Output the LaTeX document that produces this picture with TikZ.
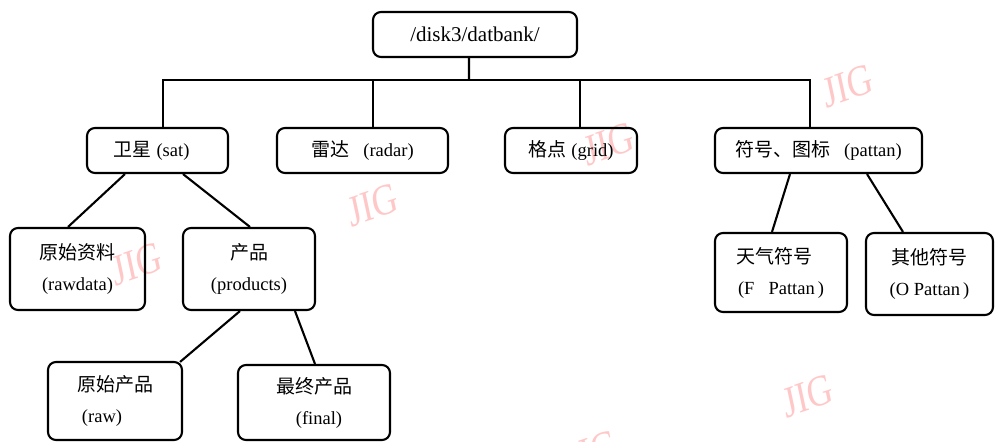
\documentclass[tikz,border=0pt]{standalone}
\usepackage{fontspec}
\setmainfont{Liberation Serif}
\newfontfamily\cjk{Noto Sans CJK SC}
\newcommand\zh[1]{{\cjk\fontsize{19bp}{31bp}\selectfont #1}}
\definecolor{wm}{RGB}{255,200,200}
\begin{document}
\begin{tikzpicture}[x=1bp,y=-1bp,
  box/.style={draw, line width=2.1bp, rounded corners=8bp, inner sep=0pt, align=center,
    font=\fontsize{18.5bp}{31bp}\selectfont},
  conn/.style={line width=2.1bp},
  wmark/.style={text=wm, font=\fontsize{44bp}{44bp}\selectfont, xscale=0.8, rotate=15, inner sep=0pt}]
\useasboundingbox (0,0) rectangle (995,442);
% watermarks
\node[wmark] (w1) at (137,264) {JIG};
\node[wmark] (w2) at (373,205) {JIG};
\node[wmark] (w3) at (609,144) {JIG};
\node[wmark] (w4) at (848,86) {JIG};
\node[wmark] (w5) at (808,396) {JIG};
\node[wmark] (w6) at (592,452) {JIG};
% nodes
\node[box, minimum width=204bp, minimum height=45bp, font=\fontsize{21bp}{25bp}\selectfont] (root) at (475,34.5) {/disk3/datbank/};
\node[box, minimum width=141bp, minimum height=45bp] (sat) at (157.5,150.5) {\hspace*{-12bp}\zh{卫星}\hspace{5bp}(sat)};
\node[box, minimum width=171bp, minimum height=45bp] (radar) at (362.5,150.5) {\zh{雷达}\hspace{14bp}(radar)};
\node[box, minimum width=132bp, minimum height=45bp] (grid) at (571,150.5) {\zh{格点}\hspace{5bp}(grid)};
\node[box, minimum width=207bp, minimum height=45bp] (pat) at (818.5,150.5) {\zh{符号、图标}\hspace{14bp}(pattan)};
\node[box, minimum width=135bp, minimum height=82bp] (rawdata) at (77.5,269) {\zh{原始资料}\\(rawdata)};
\node[box, minimum width=132bp, minimum height=82bp] (prod) at (249,269) {\zh{产品}\\(products)};
\node[box, minimum width=134bp, minimum height=78bp] (raw) at (115,401) {\zh{原始产品}\\\hspace*{-26bp}(raw)};
\node[box, minimum width=152bp, minimum height=75bp] (final) at (314,402.5) {\zh{最终产品}\\\hspace*{10bp}(final)};
\node[box, minimum width=132bp, minimum height=79bp] (fp) at (781,272.5) {\hspace*{-14bp}\zh{天气符号}\\(F\hspace{14bp}Pattan\hspace{3bp})};
\node[box, minimum width=127bp, minimum height=82bp] (op) at (929.5,274) {\zh{其他符号}\\(O Pattan\hspace{3bp})};
% tree connectors
\coordinate (bus) at (469,80);
\draw[conn] ([xshift=-6bp]root.south) -- (bus);
\draw[conn] ([xshift=5.5bp]sat.north) -- ([xshift=5.5bp]sat.north |- bus) -- ([xshift=-8.5bp]pat.north |- bus) -- ([xshift=-8.5bp]pat.north);
\draw[conn] ([xshift=10.5bp]radar.north) -- ([xshift=10.5bp]radar.north |- bus);
\draw[conn] ([xshift=9bp]grid.north) -- ([xshift=9bp]grid.north |- bus);
\draw[conn] ([xshift=-32.5bp]sat.south) -- ([xshift=-9.5bp]rawdata.north);
\draw[conn] ([xshift=25.5bp]sat.south) -- ([xshift=1bp]prod.north);
\draw[conn] ([xshift=-9bp]prod.south) -- ([xshift=-3bp,yshift=-1bp]raw.north east);
\draw[conn] ([xshift=46bp]prod.south) -- ([xshift=1bp]final.north);
\draw[conn] ([xshift=-28.5bp]pat.south) -- ([xshift=-9bp]fp.north);
\draw[conn] ([xshift=48.5bp]pat.south) -- ([xshift=-26.5bp]op.north);
\end{tikzpicture}
\end{document}
